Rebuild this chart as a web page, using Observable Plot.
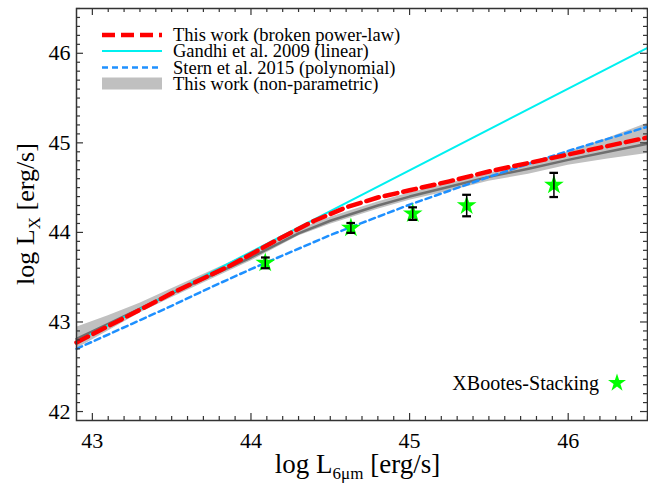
<!DOCTYPE html>
<html><head><meta charset="utf-8">
<script src="https://cdn.jsdelivr.net/npm/d3@7"></script>
<script src="https://cdn.jsdelivr.net/npm/@observablehq/plot@0.6"></script>
<style>body{margin:0;background:#fff;} #chart{width:648px;height:485px;}</style>
</head><body><div id="chart"></div>
<script>
// ---- data ----
const gandhiX = [42.9, 46.5];
const gandhiY = [42.78, 46.06];

const sternX = [42.9, 43.25, 43.5, 43.75, 44.0, 44.5, 45.0, 45.5, 46.0, 46.5];
const sternY = [42.70, 42.98, 43.18, 43.39, 43.59, 43.97, 44.31, 44.62, 44.91, 45.18];

const bplX = [42.9, 43.5, 43.87, 44.2, 44.4, 44.6, 44.8, 45.0, 45.25, 45.5, 46.0, 46.5];
const bplY = [42.77, 43.32, 43.63, 43.95, 44.13, 44.28, 44.39, 44.47, 44.57, 44.68, 44.87, 45.06];

const npX  = [42.9, 43.1, 43.3, 43.5, 44.0, 44.3, 44.5, 44.8, 45.0, 45.25, 45.5, 45.75, 46.0, 46.25, 46.5];
const npY  = [42.81, 42.98, 43.15, 43.32, 43.72, 43.99, 44.13, 44.30, 44.40, 44.51, 44.62, 44.71, 44.81, 44.90, 44.99];
const npLo = [42.70, 42.90, 43.10, 43.27, 43.68, 43.96, 44.09, 44.26, 44.36, 44.46, 44.57, 44.65, 44.75, 44.82, 44.88];
const npHi = [42.94, 43.07, 43.21, 43.37, 43.77, 44.03, 44.17, 44.34, 44.44, 44.55, 44.66, 44.77, 44.90, 45.05, 45.22];

const stackX   = [44.09, 44.63, 45.02, 45.36, 45.91];
const stackY   = [43.66, 44.05, 44.21, 44.30, 44.53];
const stackErr = [0.06, 0.055, 0.07, 0.12, 0.135];

const xTicks = [43, 44, 45, 46];
const yTicks = [42, 43, 44, 45, 46];

const legendLabels = ["This work (broken power-law)", "Gandhi et al. 2009 (linear)", "Stern et al. 2015 (polynomial)", "This work (non-parametric)"];
const stackLabel = "XBootes-Stacking";

// ---- tables ----
const gandhi = gandhiX.map((x, i) => ({x, y: gandhiY[i]}));
const stern = sternX.map((x, i) => ({x, y: sternY[i]}));
const bpl = bplX.map((x, i) => ({x, y: bplY[i]}));
const np = npX.map((x, i) => ({x, y: npY[i], lo: npLo[i], hi: npHi[i]}));
const stack = stackX.map((x, i) => ({x, y: stackY[i], lo: stackY[i] - stackErr[i], hi: stackY[i] + stackErr[i]}));

const xDomain = [42.9, 46.5], yDomain = [41.9, 46.5];
const xMinor = d3.range(430, 466).map(v => v / 10).filter(v => !xTicks.includes(v));
const yMinor = d3.range(420, 466).map(v => v / 10).filter(v => !yTicks.includes(v));

const W = 648, H = 485, mL = 76, mR = 1, mT = 8, mB = 65;
const iW = W - mL - mR, iH = H - mT - mB;
const serif = "'Liberation Serif', 'Times New Roman', serif";
const axisCol = "#333";
const tickW = 1.2, majLen = 7, minLen = 4;

const colRed = "#ff0000", colCyan = "#00f0f0", colBlue = "#1e90ff", colGrayLine = "#6f6f6f", colBand = "#c0c0c0", colStar = "#00ff00";

const plot = Plot.plot({
  width: W, height: H,
  marginLeft: mL, marginRight: mR, marginTop: mT, marginBottom: mB,
  style: {fontFamily: serif, fontSize: "22px", background: "white", color: "#000", overflow: "visible"},
  x: {domain: xDomain},
  y: {domain: yDomain},
  marks: [
    Plot.areaY(np, {x: "x", y1: "lo", y2: "hi", fill: colBand}),
    Plot.line(np, {x: "x", y: "y", stroke: colGrayLine, strokeWidth: 2.5}),
    Plot.line(gandhi, {x: "x", y: "y", stroke: colCyan, strokeWidth: 2}),
    Plot.line(stern, {x: "x", y: "y", stroke: colBlue, strokeWidth: 2.5, strokeDasharray: "6,4"}),
    Plot.line(bpl, {x: "x", y: "y", stroke: colRed, strokeWidth: 4.5, strokeDasharray: "13,6"}),
    Plot.dot(stack, {x: "x", y: "y", symbol: "star", r: 6.2, fill: colStar, stroke: "none"}),
    Plot.link(stack, {x1: "x", x2: "x", y1: "lo", y2: "hi", stroke: "black", strokeWidth: 1.5, markerStart: "tick", markerEnd: "tick"}),
    // inward ticks on all four sides
    Plot.ruleX(xTicks, {insetTop: iH - majLen, stroke: axisCol, strokeWidth: tickW}),
    Plot.ruleX(xMinor, {insetTop: iH - minLen, stroke: axisCol, strokeWidth: tickW}),
    Plot.ruleX(xTicks, {insetBottom: iH - majLen, stroke: axisCol, strokeWidth: tickW}),
    Plot.ruleX(xMinor, {insetBottom: iH - minLen, stroke: axisCol, strokeWidth: tickW}),
    Plot.ruleY(yTicks, {insetRight: iW - majLen, stroke: axisCol, strokeWidth: tickW}),
    Plot.ruleY(yMinor, {insetRight: iW - minLen, stroke: axisCol, strokeWidth: tickW}),
    Plot.ruleY(yTicks, {insetLeft: iW - majLen, stroke: axisCol, strokeWidth: tickW}),
    Plot.ruleY(yMinor, {insetLeft: iW - minLen, stroke: axisCol, strokeWidth: tickW}),
    Plot.frame({stroke: axisCol, strokeWidth: 1.5}),
    Plot.axisX(xTicks, {tickSize: 0, tickPadding: 12, label: null, fontSize: 22, fill: "#000", tickFormat: d => String(d)}),
    Plot.axisY(yTicks, {tickSize: 0, tickPadding: 6, label: null, fontSize: 22, fill: "#000", tickFormat: d => String(d)})
  ]
});
document.getElementById("chart").appendChild(plot);

// ---- axis titles with subscripts, legend, stacking label ----
const svg = d3.select(plot);
const xt = svg.append("text").attr("x", mL + iW / 2 - 4).attr("y", 473)
  .attr("text-anchor", "middle").attr("font-family", serif).attr("font-size", 27).attr("fill", "#000");
xt.append("tspan").text("log L");
xt.append("tspan").attr("font-size", 17).attr("dy", 6).text("6μm");
xt.append("tspan").attr("dy", -6).text(" [erg/s]");

const yt = svg.append("text").attr("transform", `translate(34,${mT + iH / 2}) rotate(-90)`)
  .attr("text-anchor", "middle").attr("font-family", serif).attr("font-size", 26).attr("fill", "#000");
yt.append("tspan").text("log L");
yt.append("tspan").attr("font-size", 17).attr("dy", 6).text("X");
yt.append("tspan").attr("dy", -6).text(" [erg/s]");

const lg = svg.append("g").attr("font-family", serif).attr("font-size", 18.5).attr("text-anchor", "start");
const rowY = [35, 51, 67.5, 83.5];
const lx0 = 102, lx1 = 162, tx = 173;
lg.append("line").attr("x1", lx0).attr("x2", lx1).attr("y1", rowY[0]).attr("y2", rowY[0])
  .attr("stroke", colRed).attr("stroke-width", 4.5).attr("stroke-dasharray", "13,6");
lg.append("line").attr("x1", lx0).attr("x2", lx1).attr("y1", rowY[1]).attr("y2", rowY[1])
  .attr("stroke", colCyan).attr("stroke-width", 2);
lg.append("line").attr("x1", lx0).attr("x2", lx1).attr("y1", rowY[2]).attr("y2", rowY[2])
  .attr("stroke", colBlue).attr("stroke-width", 2.5).attr("stroke-dasharray", "6,4");
lg.append("rect").attr("x", lx0).attr("y", rowY[3] - 6).attr("width", lx1 - lx0).attr("height", 12)
  .attr("fill", colBand);
legendLabels.forEach((t, i) => {
  lg.append("text").attr("x", tx).attr("y", rowY[i]).attr("dy", "0.33em").attr("fill", "#000")
    .attr("text-anchor", "start").text(t);
});

svg.append("text").attr("x", 599).attr("y", 390).attr("text-anchor", "end")
  .attr("font-family", serif).attr("font-size", 20).attr("fill", "#000").text(stackLabel);
svg.append("path").attr("transform", "translate(617,383)")
  .attr("d", d3.symbol(d3.symbolStar, 100)()).attr("fill", colStar);
</script>
</body></html>
